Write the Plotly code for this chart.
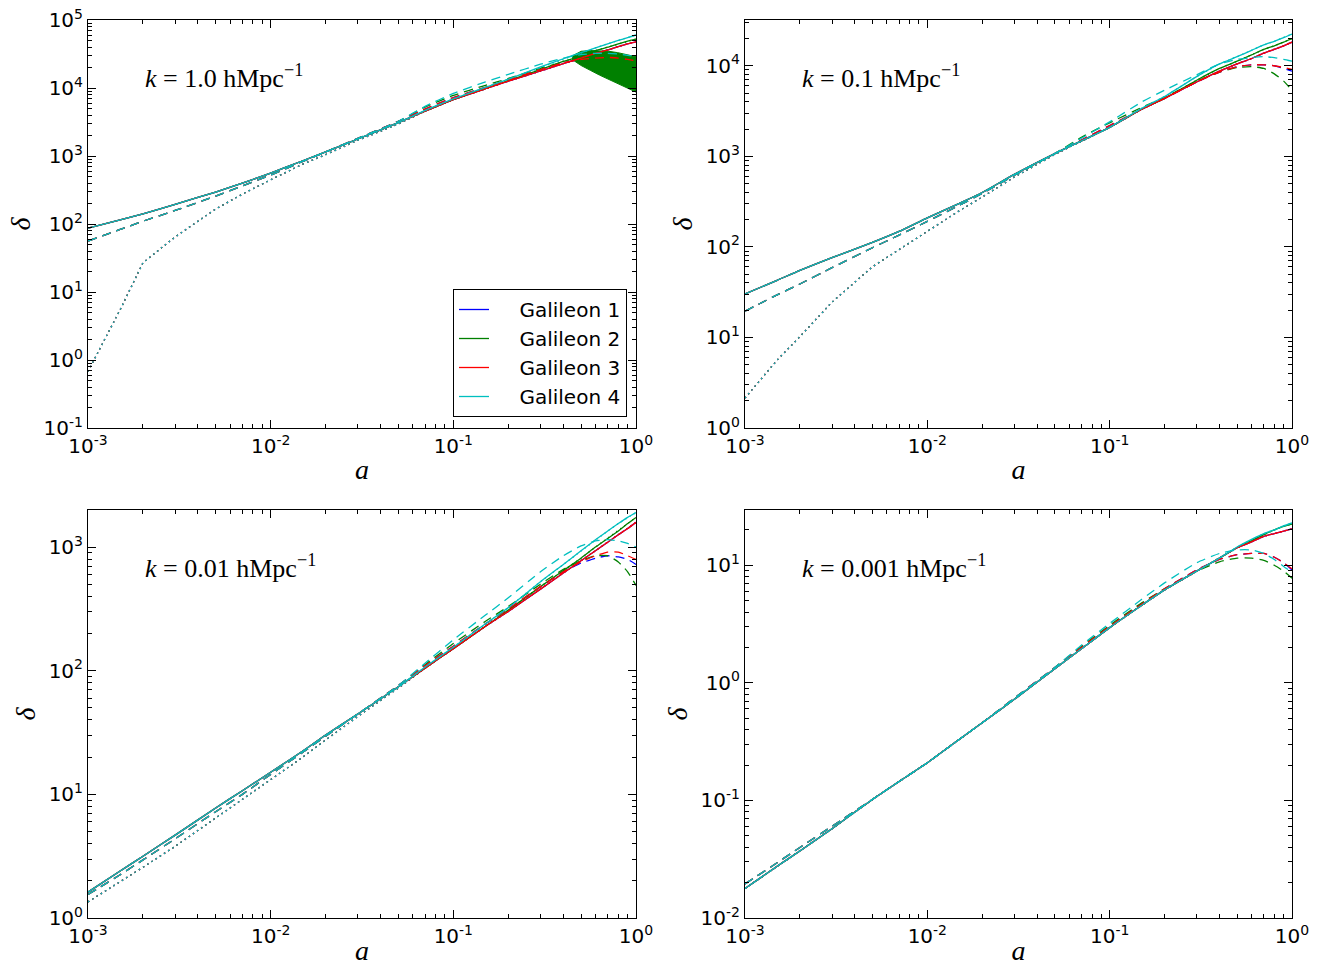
import plotly.graph_objects as go
from plotly.subplots import make_subplots

# ---------------- data ----------------
MODELS = ["Galileon 1", "Galileon 2", "Galileon 3", "Galileon 4"]
COLORS = ["#0000ff", "#008000", "#ff0000", "#00bfbf"]

# scale-factor grids: early part (all models coincide), late part (models differ)
A_EARLY = [0.001, 0.0015, 0.002, 0.003, 0.005, 0.007, 0.01, 0.015, 0.02, 0.03, 0.05]
A_LATE = [0.07, 0.1, 0.15, 0.2, 0.3, 0.4, 0.5, 0.6, 0.7, 0.8, 0.9, 1.0]

# ---- k = 1.0 ----
K1_SOLID_EARLY = [87.1, 115, 141, 195, 295, 398, 562, 851, 1148, 1778, 3090]
K1_DASH_EARLY = [56.2, 83.2, 110, 158, 257, 363, 525, 832, 1148, 1820, 3236]
K1_DOT_EARLY = [0.676, 5.50, 26.9, 64.6, 166, 275, 447, 759, 1047, 1698, 2951]
K1_SOLID_LATE = [
    [4571, 6761, 9772, 12589, 17783, 22909, 27542, 32359, 36308, 40738, 44668, 47863],
    [4571, 6761, 9772, 12882, 18621, 24547, 29512, 35481, 39811, 44668, 48978, 52481],
    [4571, 6761, 9772, 12589, 17783, 22909, 27542, 32359, 36308, 40738, 44668, 47863],
    [4677, 6918, 10233, 13490, 20417, 26915, 33113, 38905, 44668, 50119, 54954, 60256],
]
K1_DASH_LATE = [
    [4898, 7244, 10233, 13183, 18621, 23442, 26303, 27542, 27542, 26915, 25704, 23988],
    [5248, 7762, 10965, 13804, 19498, 23988],
    [4898, 7244, 10233, 13183, 18621, 23442, 26303, 27542, 28184, 27542, 26303, 25119],
    [5370, 8318, 12303, 15849, 22387, 27542, 30903, 32359, 32359, 31623, 30200, 28840],
]
# envelope of the rapidly oscillating Galileon 2 dashed curve at k = 1.0
K1_BAND_A = [0.447, 0.501, 0.562, 0.631, 0.708, 0.794, 0.891, 1.0]
K1_BAND_HI = [29512, 34674, 35481, 35481, 34674, 33113, 30903, 28840]
K1_BAND_LO = [26303, 21380, 18197, 15488, 13183, 11482, 10000, 8710]

# ---- k = 0.1 ----
K2_SOLID_EARLY = [30.2, 42.7, 55.0, 75.9, 112, 148, 209, 302, 398, 631, 1072]
K2_DASH_EARLY = [19.5, 29.5, 38.9, 58.9, 97.7, 135, 191, 288, 389, 617, 1072]
K2_DOT_EARLY = [2.14, 5.62, 10.2, 24.5, 60.3, 93.3, 148, 251, 355, 589, 1047]
K2_SOLID_LATE = [
    [1479, 2089, 3311, 4365, 6607, 8710, 10471, 12023, 13804, 15136, 16596, 18197],
    [1479, 2089, 3311, 4365, 6918, 9333, 11220, 13183, 15136, 16596, 18197, 19953],
    [1479, 2089, 3311, 4365, 6607, 8710, 10471, 12023, 13804, 15136, 16596, 18197],
    [1479, 2089, 3388, 4571, 7586, 10471, 12589, 14791, 16982, 18621, 20417, 22387],
]
K2_DASH_LATE = [
    [1514, 2188, 3311, 4365, 6607, 8511, 9772, 10233, 10233, 10000, 9333, 8710],
    [1622, 2344, 3467, 4467, 6761, 8511, 9550, 9772, 9333, 8128, 6761, 5370],
    [1514, 2188, 3311, 4365, 6607, 8511, 9772, 10233, 10233, 10000, 9550, 9120],
    [1585, 2399, 3981, 5370, 7943, 10471, 11749, 12303, 12589, 12303, 11749, 11220],
]

# ---- k = 0.01 ----
K3_SOLID_EARLY = [1.62, 2.40, 3.16, 4.68, 7.76, 10.7, 15.1, 22.4, 30.2, 44.7, 74.1]
K3_DASH_EARLY = [1.55, 2.24, 2.95, 4.37, 7.24, 10.0, 14.5, 21.9, 29.5, 44.7, 75.9]
K3_DOT_EARLY = [1.35, 1.95, 2.57, 3.80, 6.46, 9.12, 13.2, 20.0, 27.5, 42.7, 72.4]
K3_SOLID_LATE = [
    [105, 151, 229, 302, 457, 617, 776, 933, 1096, 1259, 1413, 1585],
    [105, 151, 229, 309, 479, 646, 813, 1000, 1175, 1349, 1549, 1738],
    [105, 151, 229, 302, 457, 617, 776, 933, 1096, 1259, 1413, 1585],
    [107, 155, 240, 324, 525, 724, 933, 1148, 1349, 1549, 1738, 1905],
]
K3_DASH_LATE = [
    [110, 158, 240, 316, 479, 631, 741, 813, 851, 832, 794, 724],
    [112, 166, 251, 331, 501, 661, 776, 851, 851, 759, 631, 490],
    [110, 158, 240, 316, 479, 631, 759, 851, 912, 912, 851, 794],
    [115, 178, 282, 389, 631, 851, 1023, 1122, 1148, 1122, 1072, 1000],
]

# ---- k = 0.001 ----
K4_SOLID_EARLY = [0.0178, 0.0275, 0.0372, 0.0575, 0.102, 0.145, 0.209, 0.331, 0.457, 0.724, 1.32]
K4_DASH_EARLY = [0.0195, 0.0295, 0.0398, 0.0603, 0.102, 0.145, 0.209, 0.331, 0.457, 0.741, 1.35]
K4_DOT_EARLY = [0.0178, 0.0275, 0.0372, 0.0575, 0.102, 0.145, 0.209, 0.331, 0.457, 0.724, 1.32]
K4_SOLID_LATE = [
    [1.95, 2.95, 4.57, 6.17, 8.91, 11.5, 14.1, 15.8, 17.6, 18.6, 19.5, 20.4],
    [1.95, 2.95, 4.57, 6.17, 8.91, 11.5, 14.1, 16.2, 18.2, 20.0, 21.4, 22.4],
    [1.95, 2.95, 4.57, 6.17, 8.91, 11.5, 14.1, 15.8, 17.6, 18.6, 19.5, 20.4],
    [1.95, 2.95, 4.57, 6.17, 8.91, 11.5, 14.3, 16.6, 18.6, 20.0, 21.6, 22.9],
]
K4_DASH_LATE = [
    [2.00, 3.02, 4.68, 6.31, 9.12, 11.2, 12.3, 12.6, 12.6, 11.7, 10.5, 9.12],
    [2.04, 3.09, 4.79, 6.31, 8.91, 10.7, 11.5, 11.5, 11.0, 10.0, 8.91, 7.76],
    [2.00, 3.02, 4.68, 6.31, 9.12, 11.2, 12.3, 12.6, 12.6, 11.7, 10.5, 9.33],
    [2.09, 3.20, 5.13, 7.08, 10.5, 12.6, 13.5, 13.5, 12.6, 11.2, 9.77, 8.71],
]

PANEL_LABELS = ["1.0", "0.1", "0.01", "0.001"]
Y_DECADES = [(-1, 5), (0, 4), (0, 3), (-2, 1)]
Y_RANGES_LOG = [(-1, 5), (0, 4.505), (0, 3.30), (-2, 1.47)]

PANELS = [
    (K1_SOLID_EARLY, K1_DASH_EARLY, K1_DOT_EARLY, K1_SOLID_LATE, K1_DASH_LATE),
    (K2_SOLID_EARLY, K2_DASH_EARLY, K2_DOT_EARLY, K2_SOLID_LATE, K2_DASH_LATE),
    (K3_SOLID_EARLY, K3_DASH_EARLY, K3_DOT_EARLY, K3_SOLID_LATE, K3_DASH_LATE),
    (K4_SOLID_EARLY, K4_DASH_EARLY, K4_DOT_EARLY, K4_SOLID_LATE, K4_DASH_LATE),
]

# ---------------- figure ----------------
W, H = 1320, 966
fig = make_subplots(rows=2, cols=2)

# pixel boxes of the four panels (left, right, top, bottom)
BOXES = [(88, 636, 20, 428), (745, 1292, 20, 428), (88, 636, 510, 918), (745, 1292, 510, 918)]
POS = [(1, 1), (1, 2), (2, 1), (2, 2)]

LW = 1.3
DASH = "9px,6px"
DOT = "1.5px,3.5px"
NBSP = "\u00a0" * 4

for p, (solid_e, dash_e, dot_e, solid_l, dash_l) in enumerate(PANELS):
    r, c = POS[p]
    for m in range(4):
        col = COLORS[m]
        show = (p == 0)
        fig.add_trace(go.Scatter(
            x=A_EARLY + A_LATE, y=solid_e + solid_l[m], mode="lines",
            line=dict(color=col, width=LW, shape="spline", smoothing=0.5),
            name=NBSP + MODELS[m], legendgroup=MODELS[m], showlegend=show,
            hoverinfo="skip"), row=r, col=c)
        dl = dash_l[m]
        fig.add_trace(go.Scatter(
            x=A_EARLY + A_LATE[:len(dl)], y=dash_e + dl, mode="lines",
            line=dict(color=col, width=LW, dash=DASH, shape="spline", smoothing=0.5),
            name=MODELS[m], legendgroup=MODELS[m], showlegend=False,
            hoverinfo="skip"), row=r, col=c)
        if p == 0 and m == 1:
            fig.add_trace(go.Scatter(
                x=K1_BAND_A + K1_BAND_A[::-1], y=K1_BAND_HI + K1_BAND_LO[::-1],
                mode="lines", fill="toself", fillcolor=col,
                line=dict(color=col, width=1),
                name=MODELS[m], legendgroup=MODELS[m], showlegend=False,
                hoverinfo="skip"), row=r, col=c)
        fig.add_trace(go.Scatter(
            x=A_EARLY + A_LATE, y=dot_e + solid_l[m], mode="lines",
            line=dict(color=col, width=LW, dash=DOT),
            name=MODELS[m], legendgroup=MODELS[m], showlegend=False,
            hoverinfo="skip"), row=r, col=c)

TICK_FONT = dict(family="DejaVu Sans", size=20, color="black")
TITLE_FONT = dict(family="Liberation Serif", size=28, color="black")


def sup(e):
    return "10<sup>%d</sup>" % e


x_minor = [m * 10.0 ** e for e in range(-3, 0) for m in range(2, 10)]

for p in range(4):
    r, c = POS[p]
    L, R, T, B = BOXES[p]
    d0, d1 = Y_DECADES[p]
    y_minor = [m * 10.0 ** e for e in range(d0 - 1, d1 + 1) for m in range(2, 10)]
    fig.update_xaxes(
        type="log", range=[-3, 0], domain=[L / W, R / W], automargin=False,
        tickmode="array", tickvals=[10.0 ** e for e in range(-3, 1)],
        ticktext=[sup(e) for e in range(-3, 1)],
        ticks="inside", ticklen=8, tickwidth=1, tickcolor="black",
        minor=dict(tickmode="array", tickvals=x_minor, ticks="inside", ticklen=4,
                   tickwidth=1, tickcolor="black", showgrid=False),
        showline=True, linecolor="black", linewidth=1, mirror="allticks",
        showgrid=False, zeroline=False, tickfont=TICK_FONT,
        title=dict(text="<i>a</i>", font=TITLE_FONT, standoff=2),
        row=r, col=c)
    fig.update_yaxes(
        type="log", range=list(Y_RANGES_LOG[p]), domain=[1 - B / H, 1 - T / H],
        automargin=False,
        tickmode="array", tickvals=[10.0 ** e for e in range(d0, d1 + 1)],
        ticktext=[sup(e) for e in range(d0, d1 + 1)],
        ticks="inside", ticklen=8, tickwidth=1, tickcolor="black",
        minor=dict(tickmode="array", tickvals=y_minor, ticks="inside", ticklen=4,
                   tickwidth=1, tickcolor="black", showgrid=False),
        showline=True, linecolor="black", linewidth=1, mirror="allticks",
        showgrid=False, zeroline=False, tickfont=TICK_FONT,
        title=dict(text="<i>δ</i>", font=TITLE_FONT, standoff=4),
        row=r, col=c)
    fig.add_annotation(
        x=(L + 55) / W, y=1 - (T + 56) / H, xref="paper", yref="paper",
        xanchor="left", yanchor="middle", showarrow=False,
        text="<i>k</i> = %s hMpc<sup>−1</sup>" % PANEL_LABELS[p],
        font=dict(family="Liberation Serif", size=26, color="black"))

fig.update_layout(
    width=W, height=H, margin=dict(l=0, r=0, t=0, b=0),
    paper_bgcolor="white", plot_bgcolor="white",
    showlegend=True,
    legend=dict(x=627 / W, y=1 - 417 / H, xanchor="right", yanchor="bottom",
                bgcolor="white", bordercolor="black", borderwidth=1,
                font=dict(family="DejaVu Sans", size=20, color="black"),
                itemwidth=30, tracegroupgap=0),
)

fig.write_html("out.html")
